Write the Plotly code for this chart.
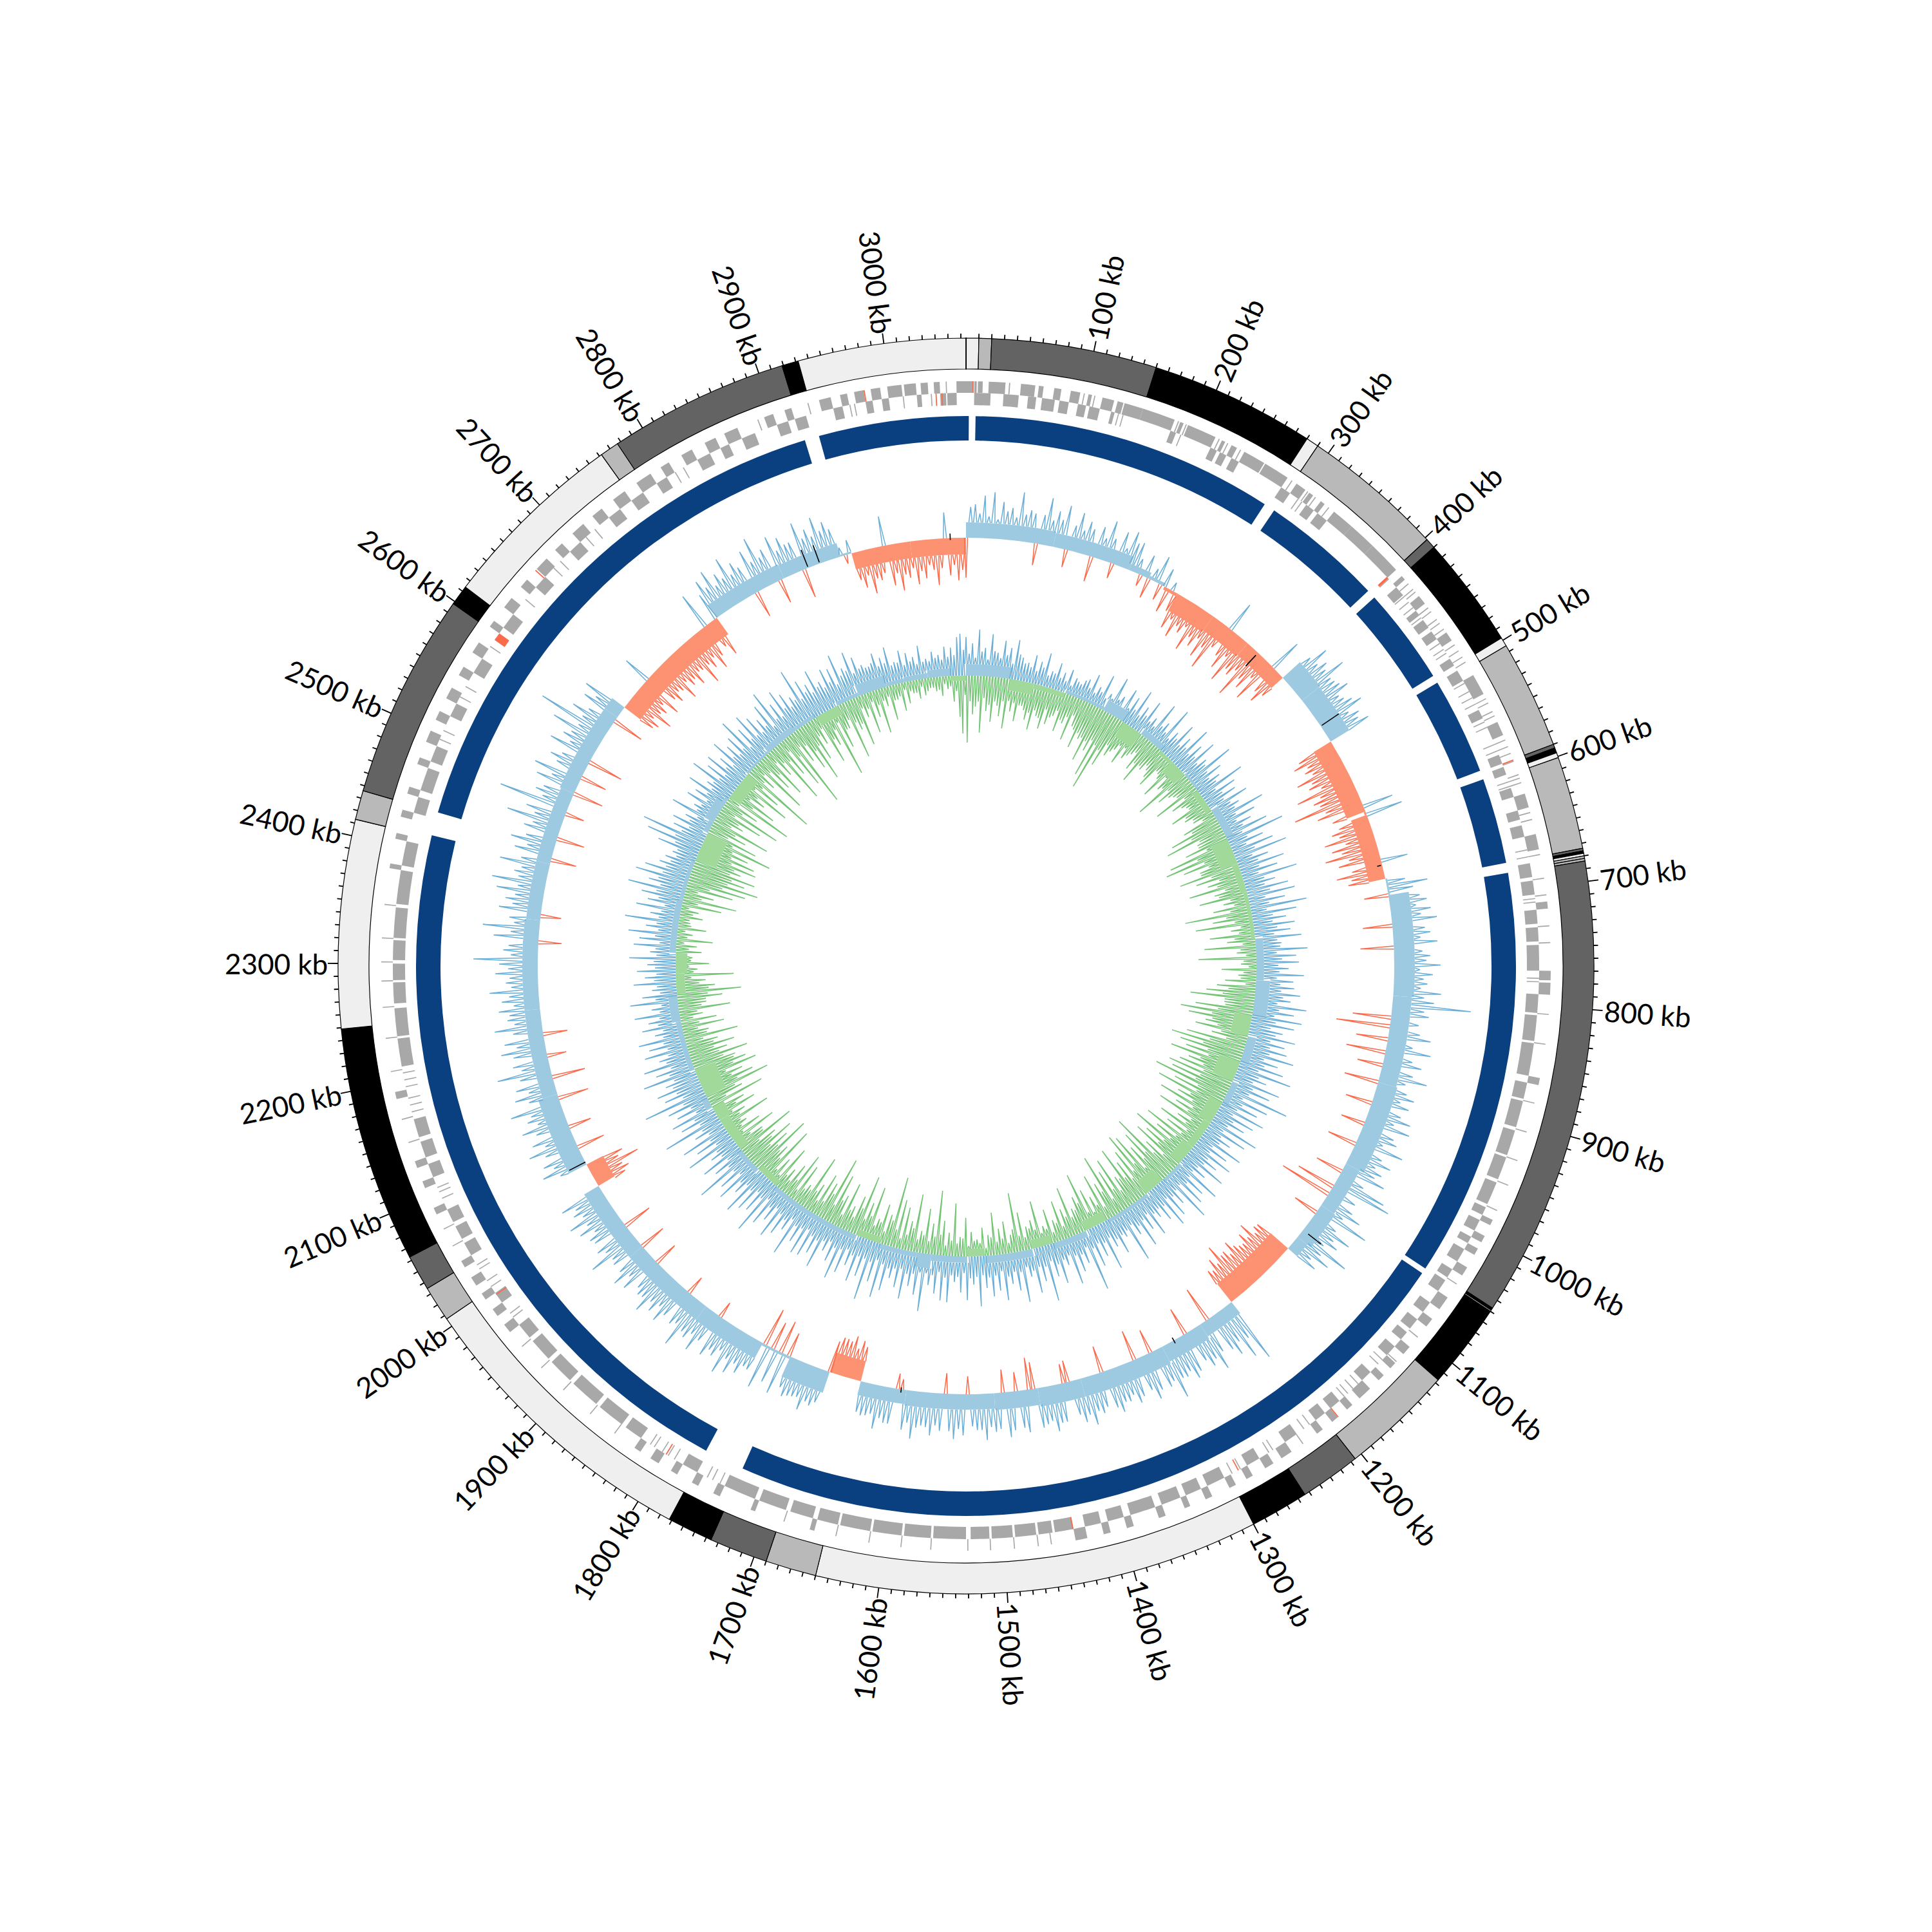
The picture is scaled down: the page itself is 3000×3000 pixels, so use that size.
import math
import plotly.graph_objects as go

GENOME_KB = 3064
BIN_KB = 5

major_tick_kb = [k * 100 for k in range(1, 31)]
major_labels = [f"{k} kb" for k in major_tick_kb]
minor_tick_kb = [k * 10 for k in range(0, 307) if k % 10 != 0]

ring_starts = [0, 10, 20, 150, 280, 290, 402, 410, 498, 505, 590, 593, 597, 601, 674, 676, 678, 680, 682, 684,
               1047, 1049, 1050, 1117, 1206, 1254, 1300, 1650, 1690, 1736, 1772, 2007, 2035, 2063, 2249, 2413,
               2436, 2598, 2614, 2762, 2777, 2919, 2932]
ring_ends = ring_starts[1:] + [GENOME_KB]
ring_shades = ["#efefef", "#b9b9b9", "#636363", "#000000", "#efefef", "#b9b9b9", "#636363", "#000000", "#efefef",
               "#b9b9b9", "#636363", "#000000", "#efefef", "#b9b9b9", "#636363", "#000000", "#efefef", "#b9b9b9",
               "#b9b9b9", "#636363", "#000000", "#efefef", "#000000", "#b9b9b9", "#636363", "#000000", "#efefef",
               "#b9b9b9", "#636363", "#000000", "#efefef", "#b9b9b9", "#636363", "#000000", "#efefef", "#b9b9b9",
               "#636363", "#000000", "#efefef", "#b9b9b9", "#636363", "#000000", "#efefef"]

contig_starts = [8.5, 290, 408, 502, 597, 683, 1055, 1772, 2436, 2932]
contig_ends = [280, 400, 495, 589, 674, 1050, 1736, 2415, 2919, 3066.5]

gene_fwd = [(-8,6),(7,9),(10,14),(19,33),(36,37),(46,58),(61,65),(74,80),(88,96),(103,106),(115,125),(128,133),(134,150),(150,178),(183,186),(190,215),(221,224),(230,235),(242,261),(262,284),(293,302),(306,310),(318,322),(332,351),(351,375),(375,403),(410,414),(432,440),(470,478),(512,530),(556,568),(620,632),(655,668),(712,718),(770,778),(780,790),(860,866),(985,990),(1000,1006),(1012,1018),(1030,1038),(1060,1072),(1082,1090),(1112,1120),(1130,1136),(1144,1150),(1160,1172),(1180,1186),(1196,1202),(1212,1218),(1244,1254),(1262,1270),(1282,1288),(1298,1304),(1320,1326),(1340,1345),(1362,1368),(1390,1396),(1410,1416),(1430,1440),(1660,1664),(1712,1716),(1744,1750),(1764,1770),(1784,1790),(1802,1810),(1820,1826),(1968,1976),(1985,1992),(2002,2008),(2016,2024),(2034,2040),(2084,2090),(2108,2114),(2126,2132),(2186,2192),(2380,2384),(2405,2410),(2424,2430),(2444,2450),(2470,2476),(2490,2500),(2510,2518),(2530,2540),(2552,2560),(2574,2584),(2600,2606),(2620,2630),(2642,2650),(2662,2674),(2684,2692),(2704,2716),(2726,2736),(2748,2760),(2772,2786),(2796,2804),(2816,2826),(2838,2848),(2856,2868),(2892,2900),(2910,2916),(2940,2950),(2958,2964),(2970,2978),(2984,2992),(2998,3010),(3012,3022),(3026,3032),(3037,3042)]
gene_rev = [(7,21),(32,45),(53,60),(65,76),(80,88),(96,103),(106,115),(125,128),(178,183),(215,221),(224,230),(235,242),(284,293),(310,318),(322,332),(414,423),(440,445),(450,458),(462,470),(490,497),(502,512),(540,548),(582,590),(593,600),(612,620),(632,640),(645,655),(678,690),(693,705),(718,730),(733,745),(748,770),(790,806),(808,830),(832,860),(866,880),(882,905),(908,930),(932,952),(955,975),(978,985),(990,1000),(1006,1012),(1018,1030),(1038,1046),(1049,1060),(1072,1082),(1090,1100),(1104,1112),(1120,1130),(1150,1160),(1186,1196),(1202,1212),(1232,1244),(1270,1282),(1304,1320),(1326,1340),(1345,1362),(1368,1390),(1396,1410),(1416,1430),(1440,1456),(1458,1470),(1472,1490),(1492,1510),(1512,1528),(1532,1560),(1562,1585),(1587,1612),(1614,1640),(1642,1660),(1664,1684),(1688,1712),(1716,1744),(1770,1784),(1826,1842),(1846,1870),(1874,1900),(1904,1926),(1930,1950),(1954,1968),(1992,2002),(2040,2052),(2056,2068),(2072,2084),(2114,2126),(2132,2146),(2150,2166),(2212,2236),(2238,2262),(2266,2284),(2286,2300),(2303,2320),(2322,2348),(2351,2380),(2384,2405),(2430,2444),(2450,2470),(2476,2490),(2518,2530),(2560,2574),(2606,2620),(2650,2662),(2692,2704),(2736,2748),(2760,2772),(2786,2796),(2826,2838),(2848,2856),(2868,2880),(2900,2910),(2916,2926),(2950,2958),(2978,2984),(2992,2998),(3022,3026),(3042,3047),(3048,3056)]
gene_thin_fwd = [99,108,181,188,218,226,238,288,304,312,326,418,424,427,444,448,456,460,466,482,488,494,499,534,538,546,550,572,578,584,591,603,606,610,636,642,672,692,706,732,746,806,831,881,906,931,953,976,1046,1101,1128,1232,1460,1471,1491,1511,1530,1561,1586,1613,1641,1686,1846,1872,1902,1928,1952,2054,2070,2148,2168,2209,2237,2263,2285,2301,2321,2349,2886,2930,3047]
gene_thin_rev = [131,135,187,301,305,404,424,430,436,447,474,480,484,514,522,528,534,551,556,572,578,606,610,666,672,708,711,776,779,1135,1140,1164,1170,1176,1180,1218,1224,1256,1260,1288,1296,1748,1755,1760,1792,1798,1804,1812,1816,1976,1980,2008,2014,2026,2030,2094,2100,2104,2172,2178,2184,2194,2200,2206,2496,2504,2536,2546,2586,2594,2636,2672,2680,2710,2720,2804,2812,2964,2968,3010,3034]
rrna_fwd = [(5.5,6.5),(590,591),(1195,1196),(2660,2661),(2978,2979)]
rrna_rev = [(3038,3039),(3043,3044),(402,404),(1290,1291),(1440,1441),(1800,1801),(2000,2001),(2593,2600)]

skew_values = [
 -62,48,52,38,66,34,72,30,58,44,50,36,76,42,50,46,-34,46,74,40,
 56,44,68,-28,40,62,36,52,42,-40,50,34,64,38,-24,54,30,60,44,48,
 24,-18,36,-32,20,44,-26,30,-40,14,-32,-58,-40,-66,-44,-52,-38,-74,-48,-60,
 -42,-70,-50,-82,-40,48,-46,-64,-38,-78,-52,-58,-44,-86,-50,-62,-36,-72,52,-46,
 -60,-42,52,78,54,66,58,86,56,58,62,72,50,54,64,76,48,62,56,70,
 -60,-72,-52,-60,-50,-80,-58,-66,-48,-92,-56,-70,-62,-107,-58,-74,48,-54,58,-48,
 -62,-52,-78,-46,-70,-56,-84,-48,-66,42,-48,-74,-52,-58,30,64,40,-38,48,58,
 40,62,46,70,-46,50,58,42,68,-52,44,56,50,72,40,60,46,52,42,74,
 48,64,122,50,58,-60,44,-84,48,66,-50,40,70,-62,44,60,-40,50,74,42,
 -54,48,62,42,58,-42,50,68,44,72,-38,52,60,40,76,-46,48,66,44,58,
 50,70,-44,42,82,95,-62,44,-83,48,66,40,87,-40,42,72,48,60,40,88,
 46,66,38,52,-60,-62,-54,-78,-58,-70,-56,-58,-64,-76,-58,-68,-66,-87,-60,-72,
 -56,-60,103,60,89,56,74,60,-56,54,80,58,66,52,-44,62,70,54,60,58,
 87,56,62,-38,60,72,54,-48,58,66,50,58,56,70,60,-42,54,62,56,76,
 58,68,54,-34,-30,60,60,72,54,58,62,-42,-50,66,58,-30,60,70,-36,56,
 60,52,72,56,56,50,-28,64,54,70,58,-32,58,50,66,54,52,56,74,50,
 62,-16,-24,56,56,50,68,46,50,52,48,-54,-62,-48,-66,-56,-58,-58,-50,52,
 60,56,72,54,56,58,62,50,-38,66,-52,54,-44,70,-60,48,46,62,50,70,
 50,78,44,58,52,66,-26,50,72,48,60,54,84,50,56,-30,52,68,46,62,
 50,74,54,56,48,-38,64,46,70,52,-42,52,48,82,50,60,-46,54,58,44,
 66,48,74,46,58,50,70,-48,-58,-50,-81,-50,-60,44,70,48,62,-44,52,76,
 46,64,-36,52,72,44,58,50,80,-48,46,66,42,60,-52,50,84,44,56,-30,
 52,70,44,62,-38,46,74,42,52,48,64,40,58,46,76,42,50,44,66,46,
 60,100,42,54,46,-36,70,44,88,40,48,-32,66,46,58,44,74,42,84,44,
 52,42,78,46,-40,60,42,70,48,-44,56,44,88,46,62,-30,111,44,58,48,
 -48,66,44,76,-42,46,60,44,-56,72,42,58,48,84,44,115,46,68,44,-50,
 62,46,70,-54,-60,-46,-74,-50,-56,-44,-68,44,-52,-62,-48,-52,-72,-46,-58,-52,
 -66,-48,-50,-78,-50,-60,-46,-70,-52,58,-44,-62,44,64,48,72,42,58,46,76,
 44,60,48,-42,68,46,82,46,56,-38,70,44,62,48,48,-46,74,46,58,44,
 72,48,60,46,14,-14,22,-44,-58,-40,-70,-48,-52,-42,46,-64,-46,-74,-50,-56,
 -42,-68,-48,-60,-40,-48,-72,-46,40,-58,-42,-66,-50]

skew_zone_kb = [0, 100, 190, 215, 235, 252, 300, 350, 406, 440, 497, 586, 590, 666, 685, 800, 900, 1000, 1055, 1100, 1117,
                1206, 1250, 1300, 1400, 1450, 1500, 1600, 1653, 1690, 1738, 1773, 1850, 1950, 2035, 2063, 2150, 2249, 2350,
                2415, 2500, 2600, 2614, 2761, 2850, 2919, 2932, 3000]
skew_zone_level = [24, 22, 10, 5, -5, -30, -27, -24, 36, 34, -31, -3, -26, 3, 32, 29, 31, 24, 26, 19, -36,
                   22, 26, 29, 29, 26, 24, 22, -32, 34, 4, 27, 26, 26, -29, 31, 24, 24, 22,
                   22, 24, 24, -31, 24, 22, 3, -26, -26]

skew_mark_kb = [366, 476, 650, 1090, 1285, 1606, 2066, 2880, 2894, 3046]
skew_mark_low = [-28, 2, -8, 10, -5, -3, 0, 2, 2, -3]
skew_mark_high = [-5, 34, -2, 35, 5, 5, 28, 30, 30, 7]

gc_above = [
 60,34,50,28,72,38,44,26,66,40,38,30,58,36,48,24,62,40,36,28,
 30,24,44,20,36,28,52,18,26,24,42,20,30,18,38,14,28,24,22,30,
 34,22,46,18,30,24,54,18,28,22,60,26,34,18,52,22,44,26,62,22,
 40,28,56,24,34,22,66,30,40,26,72,22,38,30,60,26,44,30,70,26,
 48,30,64,26,40,34,78,30,52,26,42,32,76,24,56,30,50,26,64,32,
 44,34,80,30,60,26,48,32,70,26,92,30,54,24,66,34,84,26,50,32,
 72,30,58,26,86,32,48,30,66,36,74,26,56,30,88,24,70,32,52,30,
 64,36,56,30,72,34,40,38,80,32,62,40,66,34,50,36,74,32,58,38,
 60,40,70,44,56,36,82,40,64,34,78,38,68,32,52,42,74,36,60,38,
 66,40,80,34,58,38,70,32,86,36,50,30,76,34,64,32,98,26,70,30,
 58,26,74,24,62,30,52,26,80,24,66,26,46,30,72,24,54,26,68,30,
 50,30,70,26,44,24,76,26,58,30,66,24,84,26,48,30,62,26,72,32,
 54,30,42,32,66,26,50,30,72,34,46,26,84,30,38,32,60,34,44,26,
 76,30,50,26,62,30,96,24,48,32,58,30,74,26,40,30,66,34,52,26,
 88,32,54,30,70,34,42,26,80,32,60,30,48,36,72,26,56,32,64,34,
 50,30,78,32,44,34,68,26,56,32,40,30,72,34,70,26,60,32,48,30,
 90,30,66,34,54,36,76,30,60,32,48,34,70,30,84,26,62,32,94,30,
 60,30,72,32,50,26,66,30,80,32,56,26,44,30,76,34,58,32,68,26,
 70,30,56,32,84,26,48,34,62,30,74,26,52,32,66,24,88,30,58,26,
 64,32,78,30,50,34,72,26,60,30,92,32,54,26,68,30,46,32,80,26,
 58,30,76,26,48,32,94,30,60,34,70,26,56,30,66,38,100,34,62,40,
 70,42,52,36,84,40,60,34,76,38,48,32,68,30,58,34,72,32,44,30,
 62,36,50,32,70,30,42,26,74,34,54,26,38,30,66,34,48,30,60,32,
 44,34,72,30,40,32,66,26,58,34,76,30,50,34,84,32,46,30,70,26,
 54,38,66,44,90,40,60,46,84,42,72,40,52,36,46,30,38,32,66,40,
 88,44,100,38,54,30,60,34,44,26,72,32,40,30,58,26,50,32,68,30,
 42,34,76,30,56,26,64,32,48,26,70,34,52,30,60,32,82,26,58,34,
 74,32,62,30,50,34,68,26,84,32,56,30,72,38,60,34,48,40,88,36,
 64,42,52,36,70,40,46,34,62,38,58,30,76,40,50,44,72,36,60,40,
 44,38,38,42,56,34,46,36,60,30,34,32,50,26,44,30,36,24,52,26,
 30,26,40,30,34,26,46,30,44,32,60,65,40]

gc_below = [
 -104,-40,-60,-48,-40,-88,-34,-54,-44,-70,-38,-44,-60,-36,-78,-34,-50,-36,-64,-38,
 -38,-44,-58,-46,-72,-40,-48,-50,-66,-34,-56,-44,-40,-30,-62,-42,-46,-34,-70,-28,
 -44,-48,-76,-50,-58,-54,-90,-56,-70,-50,-108,-54,-126,-58,-82,-44,-60,-50,-44,-34,
 -62,-32,-48,-40,-34,-28,-56,-42,-72,-40,-44,-32,-38,-48,-60,-28,-30,-36,-66,-24,
 -46,-40,-90,-36,-58,-42,-36,-32,-74,-24,-50,-36,-30,-28,-62,-40,-44,-32,-34,-20,
 -56,-44,-82,-50,-94,-40,-46,-46,-70,-36,-100,-56,-110,-48,-84,-44,-60,-60,-96,-46,
 -72,-36,-56,-42,-88,-32,-50,-44,-76,-28,-40,-24,-58,-32,-104,-40,-62,-28,-90,-20,
 -36,-24,-70,-32,-44,-20,-80,-24,-30,-16,-90,-20,-24,-12,-54,-20,-28,-24,-48,-16,
 -60,-42,-76,-50,-100,-46,-46,-44,-90,-54,-112,-62,-98,-60,-70,-50,-84,-42,-56,-32,
 -94,-56,-116,-64,-100,-54,-88,-50,-110,-60,-78,-52,-90,-48,-104,-50,-96,-54,-120,-46,
 -84,-44,-108,-50,-70,-42,-96,-36,-64,-40,-88,-28,-50,-32,-76,-24,-58,-28,-90,-32,
 -66,-36,-100,-42,-74,-46,-86,-28,-60,-40,-112,-50,-90,-44,-70,-32,-96,-48,-104,-40,
 -80,-32,-66,-40,-94,-44,-50,-28,-86,-36,-70,-24,-100,-42,-58,-20,-76,-28,-44,-20,
 -60,-24,-90,-44,-56,-36,-40,-28,-78,-32,-46,-20,-62,-28,-34,-16,-54,-24,-30,-20,
 -72,-28,-44,-32,-36,-20,-60,-24,-92,-36,-28,-16,-50,-24,-40,-20,-66,-28,-32,-12,
 -44,-20,-26,-24,-38,-16,-60,-28,-30,-20,-82,-24,-36,-16,-54,-32,-100,-28,-48,-20,
 -70,-28,-34,-20,-90,-36,-46,-24,-66,-16,-76,-28,-110,-40,-48,-20,-62,-32,-36,-24,
 -84,-36,-56,-28,-96,-42,-60,-24,-40,-32,-74,-20,-50,-40,-80,-28,-104,-42,-58,-24,
 -68,-20,-46,-32,-88,-28,-34,-24,-62,-16,-76,-28,-52,-20,-38,-24,-70,-16,-44,-20,
 -92,-36,-56,-44,-100,-48,-70,-40,-84,-50,-60,-32,-96,-46,-48,-28,-74,-20,-54,-24,
 -36,-28,-80,-32,-44,-24,-66,-36,-52,-20,-88,-28,-58,-48,-106,-56,-84,-50,-70,-44,
 -96,-60,-82,-64,-68,-50,-90,-46,-60,-40,-74,-42,-50,-28,-84,-36,-40,-24,-66,-28,
 -56,-20,-36,-28,-80,-36,-44,-44,-70,-48,-100,-50,-60,-36,-46,-24,-90,-28,-34,-20,
 -52,-24,-26,-16,-40,-20,-32,-12,-56,-16,-24,-12,-44,-20,-18,-16,-36,-20,-28,-12,
 -62,-24,-84,-28,-46,-20,-74,-36,-92,-54,-110,-60,-86,-64,-100,-58,-74,-62,-96,-54,
 -90,-50,-76,-48,-110,-44,-82,-32,-60,-40,-94,-28,-46,-36,-72,-24,-98,-32,-56,-20,
 -108,-40,-76,-28,-52,-36,-88,-24,-66,-32,-120,-28,-44,-20,-92,-24,-60,-36,-78,-20,
 -48,-28,-100,-32,-60,-20,-86,-36,-124,-24,-54,-28,-72,-44,-96,-40,-66,-28,-44,-20,
 -80,-44,-56,-32,-110,-24,-68,-40,-40,-28,-92,-36,-50,-42,-78,-20,-36,-24,-64,-16,
 -42,-24,-70,-20,-30,-16,-54,-24,-24,-20,-44,-12,-34,-16,-20,-20,-30,-12,-26,-20,
 -16,-16,-22,-20,-30,-12,-20,-16,-40,-24,-64,-90,-30]

gc_zone_kb = [0, 75, 115, 170, 240, 280, 315, 360, 385, 415, 450, 490, 545, 590, 640, 720, 790, 850, 885, 930, 965, 1005,
              1045, 1095, 1130, 1170, 1205, 1285, 1325, 1385, 1420, 1500, 1530, 1590, 1615, 1680, 1720, 1880, 1920, 1965,
              2025, 2050, 2070, 2120, 2205, 2250, 2285, 2320, 2410, 2480, 2530, 2550, 2590, 2600, 2650, 2700, 2760, 2800,
              2840, 2880, 2930, 2960, 3000, 3040]
gc_zone_level = [18, -18, -8, 5, 18, -26, 10, -6, -22, 4, -10, 12, -28, -10, -6, 12, 22, -28, 14, -34, 10, -22,
                 -12, -20, 6, -24, 6, -16, 10, -14, 12, -12, 10, 22, 8, -10, 8, -10, 8, -16,
                 -20, 10, -34, 8, 14, -14, -18, 10, 6, -34, 8, 16, 6, -20, 4, 10, 6, -16,
                 6, 18, 6, 8, 12, -8]

# ---- styling and layout constants
R_RING = (927, 975)
R_FWD = (890, 908)
R_REV = (871, 890)
R_CONTIG = (816, 854)
SKEW_BASE = 665
GC_BASE = 451
SPIKE_HALF_KB = 1.8
THIN_GENE_KB = 0.9


def deg(kb):
    return kb * 360.0 / GENOME_KB


fig = go.Figure()


def bars(starts, ends, r0, r1, color, line=None):
    fig.add_trace(go.Barpolar(
        theta=[deg((a + b) / 2) for a, b in zip(starts, ends)],
        width=[deg(b - a) for a, b in zip(starts, ends)],
        r=[r1 - r0] * len(starts), base=[r0] * len(starts),
        marker=dict(color=color, line=line or dict(width=0)),
        hoverinfo="skip", showlegend=False))


bars(ring_starts, ring_ends, *R_RING, ring_shades, dict(color="#000000", width=1.2))
bars([0], [0.15], *R_RING, "#000000", dict(color="#000000", width=1.5))
bars(contig_starts, contig_ends, *R_CONTIG, "#0a3f80")

for genes, thin, extra, rng in ((gene_fwd, gene_thin_fwd, rrna_fwd, R_FWD), (gene_rev, gene_thin_rev, rrna_rev, R_REV)):
    bars([g[0] for g in genes], [g[1] for g in genes], *rng, "#a8a8a8")
    bars(thin, [t + THIN_GENE_KB for t in thin], *rng, "#a8a8a8")
    bars([g[0] for g in extra], [g[1] for g in extra], *rng, "#fb6a4a")


def zone_bars(zone_kb, levels, base, pos_color, neg_color):
    ends = zone_kb[1:] + [GENOME_KB]
    fig.add_trace(go.Barpolar(
        theta=[deg((a + b) / 2) for a, b in zip(zone_kb, ends)],
        width=[deg(b - a) for a, b in zip(zone_kb, ends)],
        r=[abs(v) for v in levels],
        base=[base if v > 0 else base + v for v in levels],
        marker=dict(color=[pos_color if v > 0 else neg_color for v in levels], line=dict(width=0)),
        hoverinfo="skip", showlegend=False))


def level_at(zone_kb, levels, kb):
    cur = levels[0]
    for z, v in zip(zone_kb, levels):
        if kb >= z:
            cur = v
    return cur


def spikes(values, offset, base, sign, zone_kb, levels, color):
    t, r = [], []
    for i, v in enumerate(values):
        m = sign * v
        if m <= 0:
            continue
        kb = i * BIN_KB + offset
        lv = max(sign * level_at(zone_kb, levels, kb), 0)
        if m <= lv:
            continue
        t += [deg(kb - SPIKE_HALF_KB), deg(kb), deg(kb + SPIKE_HALF_KB), None]
        r += [base + sign * lv, base + sign * m, base + sign * lv, None]
    fig.add_trace(go.Scatterpolar(theta=t, r=r, mode="lines", line=dict(color=color, width=1.5),
                                  hoverinfo="skip", showlegend=False))


zone_bars(skew_zone_kb, skew_zone_level, SKEW_BASE, "#9ecae1", "#fc9272")
spikes(skew_values, 0, SKEW_BASE, 1, skew_zone_kb, skew_zone_level, "#6baed6")
spikes(skew_values, 0, SKEW_BASE, -1, skew_zone_kb, skew_zone_level, "#fb6a4a")
zone_bars(gc_zone_kb, gc_zone_level, GC_BASE, "#9ecae1", "#a1d99b")
spikes(gc_above, 0, GC_BASE, 1, gc_zone_kb, gc_zone_level, "#6baed6")
spikes(gc_below, 2.5, GC_BASE, -1, gc_zone_kb, gc_zone_level, "#74c476")

mark_t, mark_r = [], []
for k, lo, hi in zip(skew_mark_kb, skew_mark_low, skew_mark_high):
    mark_t += [deg(k), deg(k), None]
    mark_r += [SKEW_BASE + lo, SKEW_BASE + hi, None]
fig.add_trace(go.Scatterpolar(theta=mark_t, r=mark_r, mode="lines",
                              line=dict(color="#000000", width=1.6), hoverinfo="skip", showlegend=False))


def ticks(kbs, length):
    t, r = [], []
    for k in kbs:
        t += [deg(k), deg(k), None]
        r += [R_RING[1], R_RING[1] + length, None]
    fig.add_trace(go.Scatterpolar(theta=t, r=r, mode="lines", line=dict(color="#000000", width=1.8),
                                  hoverinfo="skip", showlegend=False))


ticks(minor_tick_kb, 7)
ticks(major_tick_kb, 16)

annotations = []
for kb, label in zip(major_tick_kb, major_labels):
    a = deg(kb)
    rc = 1000 + 0.46 * 44 * len(label) / 2
    x = 0.5 + rc * math.sin(math.radians(a)) / 3000
    y = 0.5 + rc * math.cos(math.radians(a)) / 3000
    rot = a - 90 if a < 180 else a - 270
    annotations.append(dict(x=x, y=y, xref="paper", yref="paper", text=label, showarrow=False,
                            textangle=rot, xanchor="center", yanchor="middle",
                            font=dict(family="Lato", size=44, color="#000000")))

fig.update_layout(
    width=3000, height=3000, margin=dict(l=0, r=0, t=0, b=0), paper_bgcolor="#ffffff", showlegend=False,
    polar=dict(domain=dict(x=[0, 1], y=[0, 1]), bgcolor="#ffffff", barmode="overlay",
               radialaxis=dict(visible=False, range=[0, 1500]),
               angularaxis=dict(visible=False, direction="clockwise", rotation=90, thetaunit="degrees")),
    annotations=annotations)

fig.write_html("out.html", config={"displayModeBar": False}, post_script="document.body.style.margin='0';")
